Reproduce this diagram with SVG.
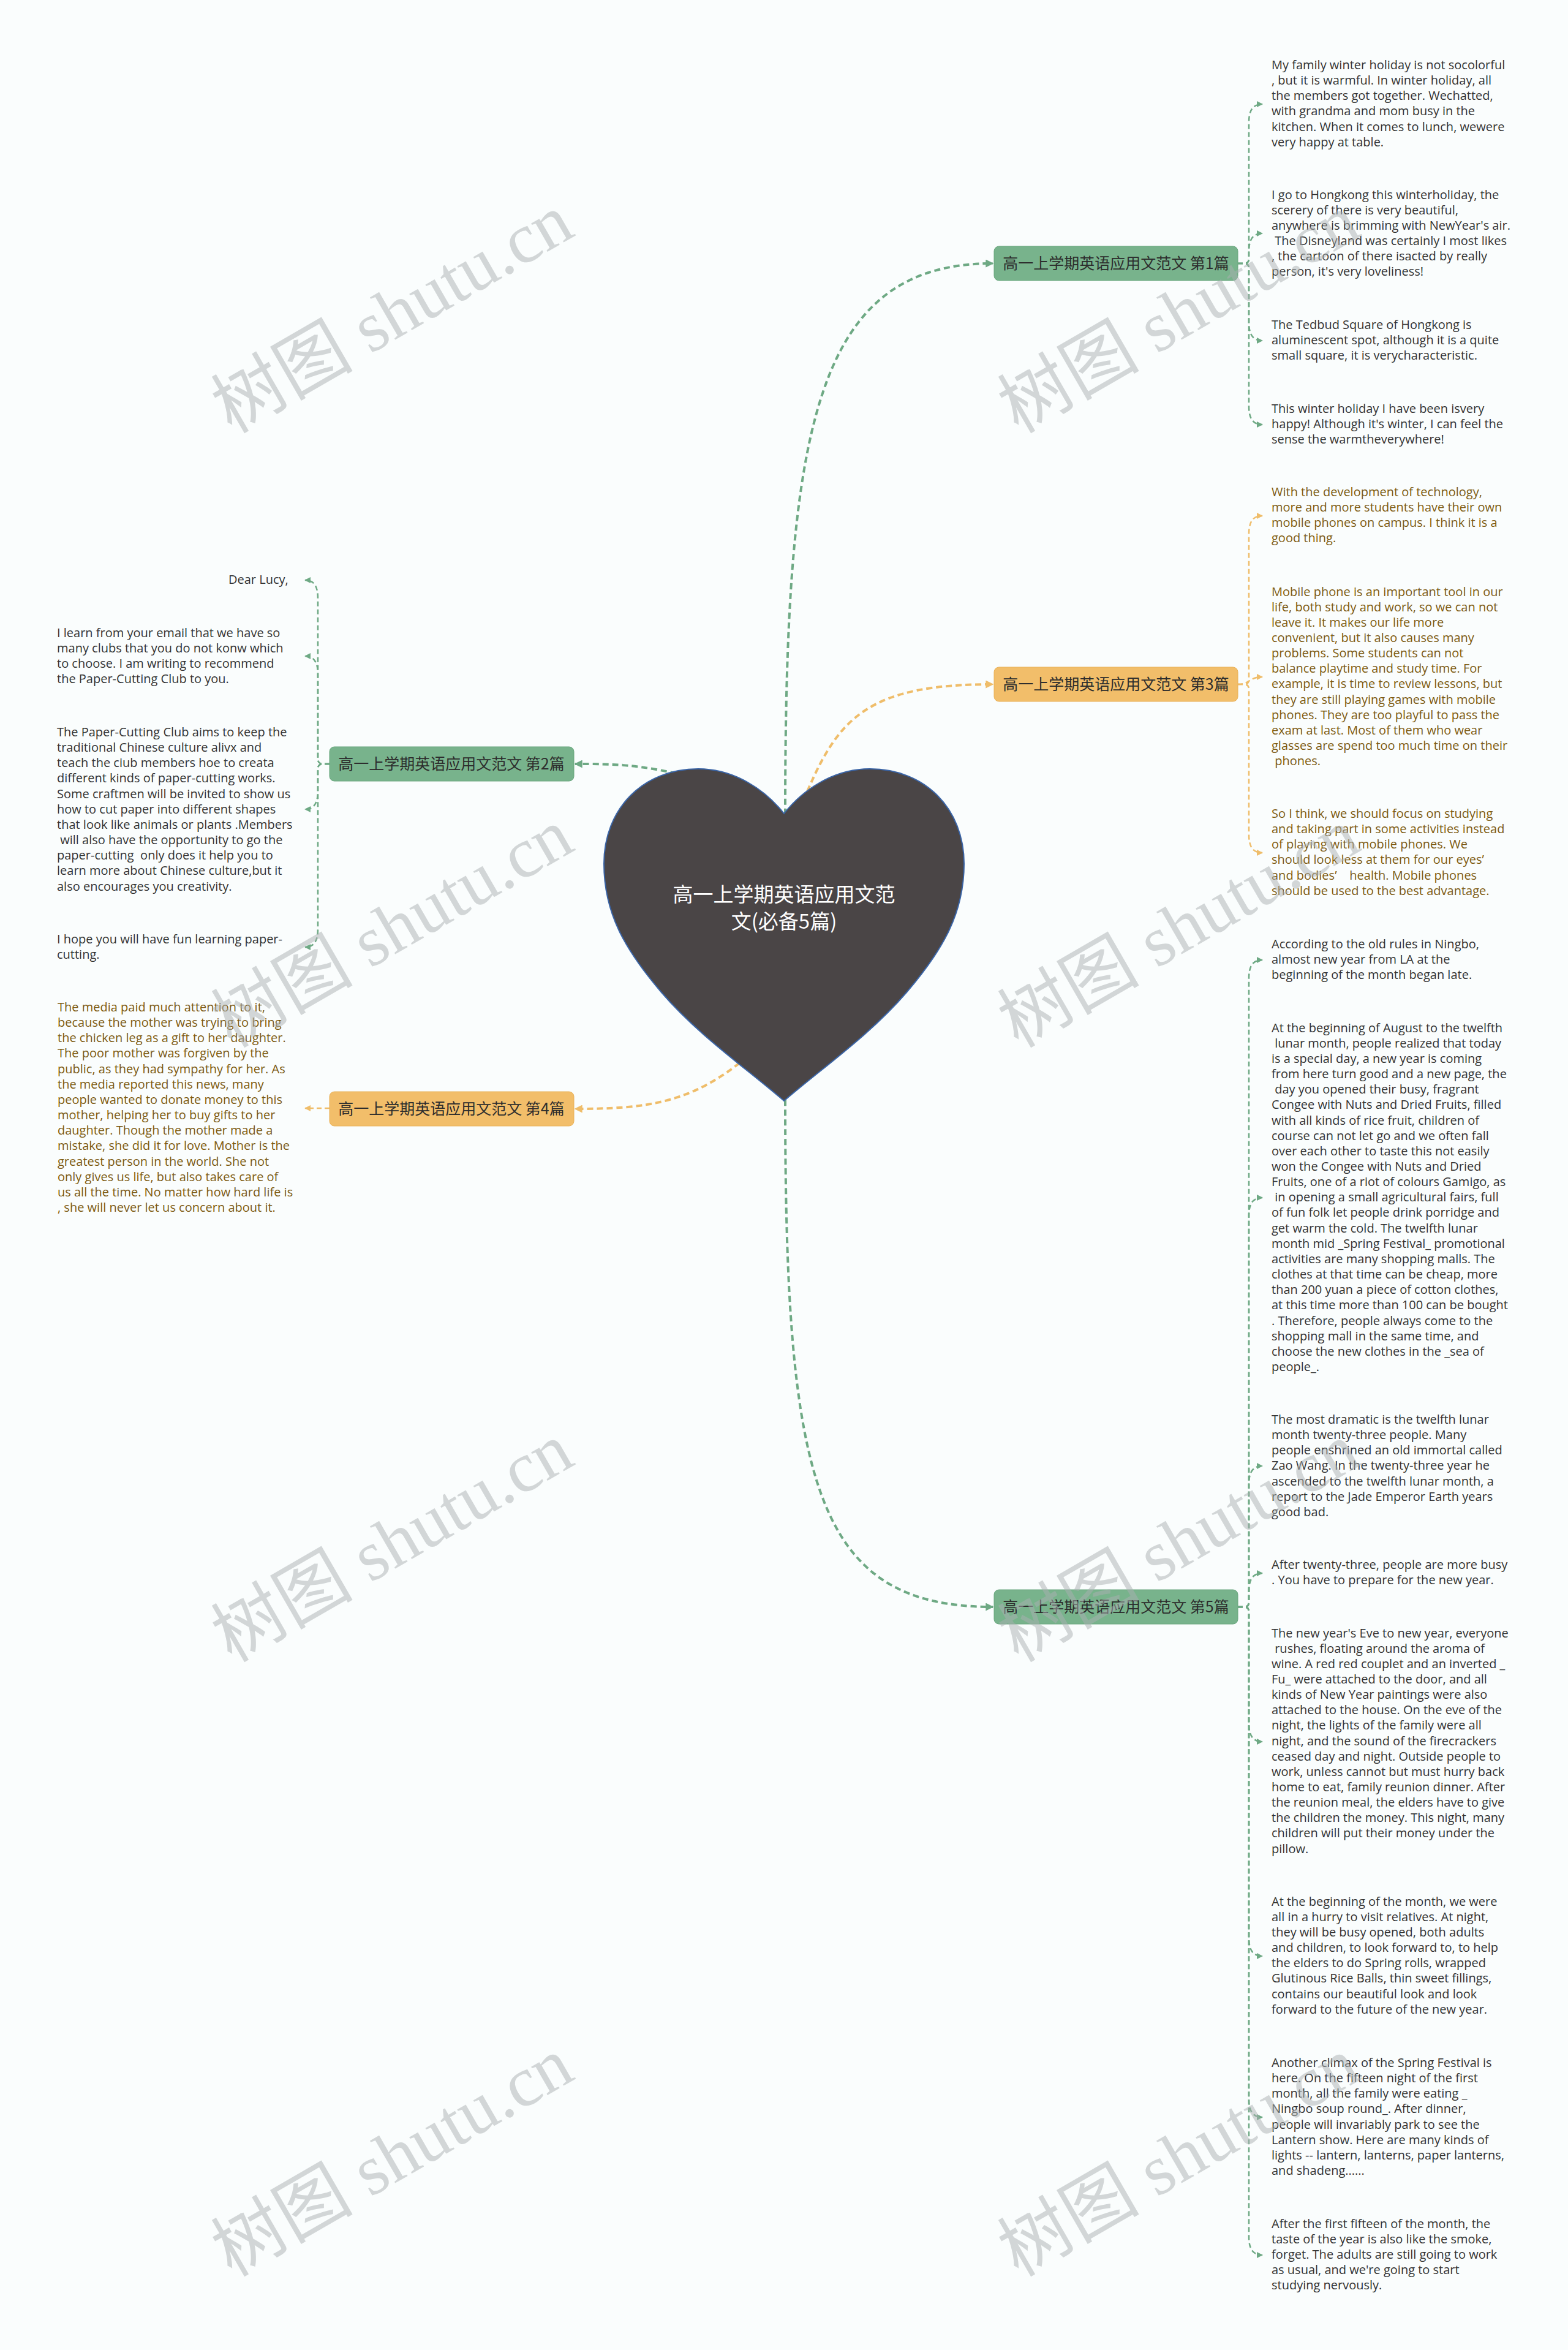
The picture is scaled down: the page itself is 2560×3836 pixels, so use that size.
<svg xmlns="http://www.w3.org/2000/svg" width="2560" height="3836" viewBox="0 0 2560 3836">
<style>
.bg{fill:#fafdfd}
.t{font-family:"Open Sans","Noto Sans",sans-serif;font-size:20px;white-space:pre}
.dk{fill:#333333}
.br{fill:#7d5a10}
.lbl{font-family:"Noto Sans CJK SC","Noto Sans",sans-serif;font-size:25px;fill:#2d2d2d;text-anchor:middle}
.ng{fill:#78b38c;stroke:#6aa77f;stroke-width:1}
.no{fill:#f2be6a;stroke:#e9b25a;stroke-width:1}
.cg{fill:none;stroke:#6ea984;stroke-width:2.5;stroke-dasharray:8 5}
.co{fill:none;stroke:#efbd6a;stroke-width:2.5;stroke-dasharray:8 5}
.mg{fill:none;stroke:#6ea984;stroke-width:4;stroke-dasharray:10 6}
.mo{fill:none;stroke:#efbd6a;stroke-width:4;stroke-dasharray:10 6}
.wm{font-family:"Liberation Serif","Noto Sans CJK SC",serif;font-size:116px;fill:#a9afb2;fill-opacity:0.5;text-anchor:middle}
</style>
<defs>
<marker id="ag" viewBox="0 0 10 10" refX="9" refY="5" markerWidth="10" markerHeight="10" markerUnits="userSpaceOnUse" orient="auto"><path d="M0,0 L10,5 L0,10 z" fill="#6ea984"/></marker>
<marker id="ao" viewBox="0 0 10 10" refX="9" refY="5" markerWidth="10" markerHeight="10" markerUnits="userSpaceOnUse" orient="auto"><path d="M0,0 L10,5 L0,10 z" fill="#efbd6a"/></marker>
<marker id="Ag" viewBox="0 0 10 10" refX="9" refY="5" markerWidth="13" markerHeight="13" markerUnits="userSpaceOnUse" orient="auto"><path d="M0,0 L10,5 L0,10 z" fill="#6ea984"/></marker>
<marker id="Ao" viewBox="0 0 10 10" refX="9" refY="5" markerWidth="13" markerHeight="13" markerUnits="userSpaceOnUse" orient="auto"><path d="M0,0 L10,5 L0,10 z" fill="#efbd6a"/></marker>
</defs>
<rect class="bg" x="0" y="0" width="2560" height="3836"/>

<g id="connectors">
<path class="mg" marker-end="url(#Ag)" d="M1282 1330 C1282 700 1330 430 1621 430"/>
<path class="mo" marker-end="url(#Ao)" d="M1318 1292 C1370 1170 1420 1117 1621 1117"/>
<path class="mg" marker-end="url(#Ag)" d="M1282 1795 C1282 2420 1330 2623 1621 2623"/>
<path class="mg" marker-end="url(#Ag)" d="M1120 1266 C1040 1248 1010 1247 939 1247"/>
<path class="mo" marker-end="url(#Ao)" d="M1220 1725 C1130 1800 1060 1810 939 1810"/>

<path class="cg" marker-end="url(#ag)" d="M2021 430 L2031 430 Q2039 430 2039 422 L2039 200 C2039 182 2044 170 2061 170"/>
<path class="cg" marker-end="url(#ag)" d="M2021 430 L2031 430 Q2039 430 2039 422 L2039 411 C2039 393 2044 381 2061 381"/>
<path class="cg" marker-end="url(#ag)" d="M2021 430 L2031 430 Q2039 430 2039 438 L2039 526 C2039 544 2044 556 2061 556"/>
<path class="cg" marker-end="url(#ag)" d="M2021 430 L2031 430 Q2039 430 2039 438 L2039 663 C2039 681 2044 693 2061 693"/>

<path class="co" marker-end="url(#ao)" d="M2021 1117 L2031 1117 Q2039 1117 2039 1109 L2039 872 C2039 854 2044 842 2061 842"/>
<path class="co" marker-end="url(#ao)" d="M2021 1117 C2040 1117 2040 1105 2061 1105"/>
<path class="co" marker-end="url(#ao)" d="M2021 1117 L2031 1117 Q2039 1117 2039 1125 L2039 1362 C2039 1380 2044 1392 2061 1392"/>

<path class="cg" marker-end="url(#ag)" d="M2021 2623 L2031 2623 Q2039 2623 2039 2615 L2039 1597 C2039 1579 2044 1567 2061 1567"/>
<path class="cg" marker-end="url(#ag)" d="M2021 2623 L2031 2623 Q2039 2623 2039 2615 L2039 1985 C2039 1967 2044 1955 2061 1955"/>
<path class="cg" marker-end="url(#ag)" d="M2021 2623 L2031 2623 Q2039 2623 2039 2615 L2039 2423 C2039 2405 2044 2393 2061 2393"/>
<path class="cg" marker-end="url(#ag)" d="M2021 2623 L2031 2623 Q2039 2623 2039 2615 L2039 2598 C2039 2580 2044 2568 2061 2568"/>
<path class="cg" marker-end="url(#ag)" d="M2021 2623 L2031 2623 Q2039 2623 2039 2631 L2039 2813 C2039 2831 2044 2843 2061 2843"/>
<path class="cg" marker-end="url(#ag)" d="M2021 2623 L2031 2623 Q2039 2623 2039 2631 L2039 3163 C2039 3181 2044 3193 2061 3193"/>
<path class="cg" marker-end="url(#ag)" d="M2021 2623 L2031 2623 Q2039 2623 2039 2631 L2039 3426 C2039 3444 2044 3456 2061 3456"/>
<path class="cg" marker-end="url(#ag)" d="M2021 2623 L2031 2623 Q2039 2623 2039 2631 L2039 3651 C2039 3669 2044 3681 2061 3681"/>

<path class="cg" marker-end="url(#ag)" d="M538 1247 L528 1247 Q519 1247 519 1239 L519 977 C519 959 514 947 498 947"/>
<path class="cg" marker-end="url(#ag)" d="M538 1247 L528 1247 Q519 1247 519 1239 L519 1101 C519 1083 514 1071 498 1071"/>
<path class="cg" marker-end="url(#ag)" d="M538 1247 L528 1247 Q519 1247 519 1255 L519 1291 C519 1309 514 1321 498 1321"/>
<path class="cg" marker-end="url(#ag)" d="M538 1247 L528 1247 Q519 1247 519 1255 L519 1516 C519 1534 514 1546 498 1546"/>

<path class="co" marker-end="url(#ao)" d="M538 1809 L498 1809"/>
</g>

<g id="root">
<path d="M1280 1328 C1250 1290 1200 1255 1140 1255 C1050 1255 986 1320 986 1410 C986 1490 1020 1550 1080 1620 C1140 1690 1220 1745 1280 1797 C1340 1745 1420 1690 1480 1620 C1540 1550 1574 1490 1574 1410 C1574 1320 1510 1255 1420 1255 C1360 1255 1310 1290 1280 1328 Z" fill="#4a4546" stroke="#3a64a6" stroke-width="2"/>
<text font-family="Noto Sans CJK SC, sans-serif" font-size="33" fill="#ffffff" text-anchor="middle"><tspan x="1280" y="1472">高一上学期英语应用文范</tspan><tspan x="1280" y="1516">文(必备5篇)</tspan></text>
</g>

<g id="n1"><rect class="ng" x="1623" y="402" width="398" height="56" rx="8"/><text class="lbl" x="1822" y="439">高一上学期英语应用文范文 第1篇</text></g>
<g id="n3"><rect class="no" x="1623" y="1089" width="398" height="56" rx="8"/><text class="lbl" x="1822" y="1126">高一上学期英语应用文范文 第3篇</text></g>
<g id="n5"><rect class="ng" x="1623" y="2595" width="398" height="56" rx="8"/><text class="lbl" x="1822" y="2632">高一上学期英语应用文范文 第5篇</text></g>
<g id="n2"><rect class="ng" x="538" y="1219" width="399" height="56" rx="8"/><text class="lbl" x="737" y="1256">高一上学期英语应用文范文 第2篇</text></g>
<g id="n4"><rect class="no" x="538" y="1782" width="399" height="56" rx="8"/><text class="lbl" x="737" y="1819">高一上学期英语应用文范文 第4篇</text></g>

<g id="n1-1"><text class="t dk" y="113"><tspan x="2076">My family winter holiday is not socolorful</tspan><tspan x="2076" dy="25.15">, but it is warmful. In winter holiday, all</tspan><tspan x="2076" dy="25.15">the members got together. Wechatted,</tspan><tspan x="2076" dy="25.15">with grandma and mom busy in the</tspan><tspan x="2076" dy="25.15">kitchen. When it comes to lunch, wewere</tspan><tspan x="2076" dy="25.15">very happy at table.</tspan></text></g>
<g id="n1-2"><text class="t dk" y="324.5"><tspan x="2076">I go to Hongkong this winterholiday, the</tspan><tspan x="2076" dy="25.15">scerery of there is very beautiful,</tspan><tspan x="2076" dy="25.15">anywhere is brimming with NewYear's air.</tspan><tspan x="2076" dy="25.15"> The Disneyland was certainly I most likes</tspan><tspan x="2076" dy="25.15">, the cartoon of there isacted by really</tspan><tspan x="2076" dy="25.15">person, it's very loveliness!</tspan></text></g>
<g id="n1-3"><text class="t dk" y="537"><tspan x="2076">The Tedbud Square of Hongkong is</tspan><tspan x="2076" dy="25.15">aluminescent spot, although it is a quite</tspan><tspan x="2076" dy="25.15">small square, it is verycharacteristic.</tspan></text></g>
<g id="n1-4"><text class="t dk" y="673.6"><tspan x="2076">This winter holiday I have been isvery</tspan><tspan x="2076" dy="25.15">happy! Although it's winter, I can feel the</tspan><tspan x="2076" dy="25.15">sense the warmtheverywhere!</tspan></text></g>

<g id="n3-1"><text class="t br" y="810"><tspan x="2076">With the development of technology,</tspan><tspan x="2076" dy="25.15">more and more students have their own</tspan><tspan x="2076" dy="25.15">mobile phones on campus. I think it is a</tspan><tspan x="2076" dy="25.15">good thing.</tspan></text></g>
<g id="n3-2"><text class="t br" y="972.5"><tspan x="2076">Mobile phone is an important tool in our</tspan><tspan x="2076" dy="25.15">life, both study and work, so we can not</tspan><tspan x="2076" dy="25.15">leave it. It makes our life more</tspan><tspan x="2076" dy="25.15">convenient, but it also causes many</tspan><tspan x="2076" dy="25.15">problems. Some students can not</tspan><tspan x="2076" dy="25.15">balance playtime and study time. For</tspan><tspan x="2076" dy="25.15">example, it is time to review lessons, but</tspan><tspan x="2076" dy="25.15">they are still playing games with mobile</tspan><tspan x="2076" dy="25.15">phones. They are too playful to pass the</tspan><tspan x="2076" dy="25.15">exam at last. Most of them who wear</tspan><tspan x="2076" dy="25.15">glasses are spend too much time on their</tspan><tspan x="2076" dy="25.15"> phones.</tspan></text></g>
<g id="n3-3"><text class="t br" y="1335"><tspan x="2076">So I think, we should focus on studying</tspan><tspan x="2076" dy="25.15">and taking part in some activities instead</tspan><tspan x="2076" dy="25.15">of playing with mobile phones. We</tspan><tspan x="2076" dy="25.15">should look less at them for our eyes’</tspan><tspan x="2076" dy="25.15">and bodies’    health. Mobile phones</tspan><tspan x="2076" dy="25.15">should be used to the best advantage.</tspan></text></g>

<g id="n5-1"><text class="t dk" y="1547.5"><tspan x="2076">According to the old rules in Ningbo,</tspan><tspan x="2076" dy="25.15">almost new year from LA at the</tspan><tspan x="2076" dy="25.15">beginning of the month began late.</tspan></text></g>
<g id="n5-2"><text class="t dk" y="1684.7"><tspan x="2076">At the beginning of August to the twelfth</tspan><tspan x="2076" dy="25.15"> lunar month, people realized that today</tspan><tspan x="2076" dy="25.15">is a special day, a new year is coming</tspan><tspan x="2076" dy="25.15">from here turn good and a new page, the</tspan><tspan x="2076" dy="25.15"> day you opened their busy, fragrant</tspan><tspan x="2076" dy="25.15">Congee with Nuts and Dried Fruits, filled</tspan><tspan x="2076" dy="25.15">with all kinds of rice fruit, children of</tspan><tspan x="2076" dy="25.15">course can not let go and we often fall</tspan><tspan x="2076" dy="25.15">over each other to taste this not easily</tspan><tspan x="2076" dy="25.15">won the Congee with Nuts and Dried</tspan><tspan x="2076" dy="25.15">Fruits, one of a riot of colours Gamigo, as</tspan><tspan x="2076" dy="25.15"> in opening a small agricultural fairs, full</tspan><tspan x="2076" dy="25.15">of fun folk let people drink porridge and</tspan><tspan x="2076" dy="25.15">get warm the cold. The twelfth lunar</tspan><tspan x="2076" dy="25.15">month mid _Spring Festival_ promotional</tspan><tspan x="2076" dy="25.15">activities are many shopping malls. The</tspan><tspan x="2076" dy="25.15">clothes at that time can be cheap, more</tspan><tspan x="2076" dy="25.15">than 200 yuan a piece of cotton clothes,</tspan><tspan x="2076" dy="25.15">at this time more than 100 can be bought</tspan><tspan x="2076" dy="25.15">. Therefore, people always come to the</tspan><tspan x="2076" dy="25.15">shopping mall in the same time, and</tspan><tspan x="2076" dy="25.15">choose the new clothes in the _sea of</tspan><tspan x="2076" dy="25.15">people_.</tspan></text></g>
<g id="n5-3"><text class="t dk" y="2324"><tspan x="2076">The most dramatic is the twelfth lunar</tspan><tspan x="2076" dy="25.15">month twenty-three people. Many</tspan><tspan x="2076" dy="25.15">people enshrined an old immortal called</tspan><tspan x="2076" dy="25.15">Zao Wang. In the twenty-three year he</tspan><tspan x="2076" dy="25.15">ascended to the twelfth lunar month, a</tspan><tspan x="2076" dy="25.15">report to the Jade Emperor Earth years</tspan><tspan x="2076" dy="25.15">good bad.</tspan></text></g>
<g id="n5-4"><text class="t dk" y="2561"><tspan x="2076">After twenty-three, people are more busy</tspan><tspan x="2076" dy="25.15">. You have to prepare for the new year.</tspan></text></g>
<g id="n5-5"><text class="t dk" y="2672.5"><tspan x="2076">The new year's Eve to new year, everyone</tspan><tspan x="2076" dy="25.15"> rushes, floating around the aroma of</tspan><tspan x="2076" dy="25.15">wine. A red red couplet and an inverted _</tspan><tspan x="2076" dy="25.15">Fu_ were attached to the door, and all</tspan><tspan x="2076" dy="25.15">kinds of New Year paintings were also</tspan><tspan x="2076" dy="25.15">attached to the house. On the eve of the</tspan><tspan x="2076" dy="25.15">night, the lights of the family were all</tspan><tspan x="2076" dy="25.15">night, and the sound of the firecrackers</tspan><tspan x="2076" dy="25.15">ceased day and night. Outside people to</tspan><tspan x="2076" dy="25.15">work, unless cannot but must hurry back</tspan><tspan x="2076" dy="25.15">home to eat, family reunion dinner. After</tspan><tspan x="2076" dy="25.15">the reunion meal, the elders have to give</tspan><tspan x="2076" dy="25.15">the children the money. This night, many</tspan><tspan x="2076" dy="25.15">children will put their money under the</tspan><tspan x="2076" dy="25.15">pillow.</tspan></text></g>
<g id="n5-6"><text class="t dk" y="3110.6"><tspan x="2076">At the beginning of the month, we were</tspan><tspan x="2076" dy="25.15">all in a hurry to visit relatives. At night,</tspan><tspan x="2076" dy="25.15">they will be busy opened, both adults</tspan><tspan x="2076" dy="25.15">and children, to look forward to, to help</tspan><tspan x="2076" dy="25.15">the elders to do Spring rolls, wrapped</tspan><tspan x="2076" dy="25.15">Glutinous Rice Balls, thin sweet fillings,</tspan><tspan x="2076" dy="25.15">contains our beautiful look and look</tspan><tspan x="2076" dy="25.15">forward to the future of the new year.</tspan></text></g>
<g id="n5-7"><text class="t dk" y="3374"><tspan x="2076">Another climax of the Spring Festival is</tspan><tspan x="2076" dy="25.15">here. On the fifteen night of the first</tspan><tspan x="2076" dy="25.15">month, all the family were eating _</tspan><tspan x="2076" dy="25.15">Ningbo soup round_. After dinner,</tspan><tspan x="2076" dy="25.15">people will invariably park to see the</tspan><tspan x="2076" dy="25.15">Lantern show. Here are many kinds of</tspan><tspan x="2076" dy="25.15">lights -- lantern, lanterns, paper lanterns,</tspan><tspan x="2076" dy="25.15">and shadeng......</tspan></text></g>
<g id="n5-8"><text class="t dk" y="3636.5"><tspan x="2076">After the first fifteen of the month, the</tspan><tspan x="2076" dy="25.15">taste of the year is also like the smoke,</tspan><tspan x="2076" dy="25.15">forget. The adults are still going to work</tspan><tspan x="2076" dy="25.15">as usual, and we're going to start</tspan><tspan x="2076" dy="25.15">studying nervously.</tspan></text></g>

<g id="n2-1"><text class="t dk" x="373" y="953">Dear Lucy,</text></g>
<g id="n2-2"><text class="t dk" y="1040"><tspan x="93">I learn from your email that we have so</tspan><tspan x="93" dy="25.15">many clubs that you do not konw which</tspan><tspan x="93" dy="25.15">to choose. I am writing to recommend</tspan><tspan x="93" dy="25.15">the Paper-Cutting Club to you.</tspan></text></g>
<g id="n2-3"><text class="t dk" y="1202"><tspan x="93">The Paper-Cutting Club aims to keep the</tspan><tspan x="93" dy="25.15">traditional Chinese culture alivx and</tspan><tspan x="93" dy="25.15">teach the ciub members hoe to creata</tspan><tspan x="93" dy="25.15">different kinds of paper-cutting works.</tspan><tspan x="93" dy="25.15">Some craftmen will be invited to show us</tspan><tspan x="93" dy="25.15">how to cut paper into different shapes</tspan><tspan x="93" dy="25.15">that look like animals or plants .Members</tspan><tspan x="93" dy="25.15"> will also have the opportunity to go the</tspan><tspan x="93" dy="25.15">paper-cutting  only does it help you to</tspan><tspan x="93" dy="25.15">learn more about Chinese culture,but it</tspan><tspan x="93" dy="25.15">also encourages you creativity.</tspan></text></g>
<g id="n2-4"><text class="t dk" y="1540"><tspan x="93">I hope you will have fun learning paper-</tspan><tspan x="93" dy="25.15">cutting.</tspan></text></g>

<g id="n4-1"><text class="t br" y="1651"><tspan x="94">The media paid much attention to it,</tspan><tspan x="94" dy="25.15">because the mother was trying to bring</tspan><tspan x="94" dy="25.15">the chicken leg as a gift to her daughter.</tspan><tspan x="94" dy="25.15">The poor mother was forgiven by the</tspan><tspan x="94" dy="25.15">public, as they had sympathy for her. As</tspan><tspan x="94" dy="25.15">the media reported this news, many</tspan><tspan x="94" dy="25.15">people wanted to donate money to this</tspan><tspan x="94" dy="25.15">mother, helping her to buy gifts to her</tspan><tspan x="94" dy="25.15">daughter. Though the mother made a</tspan><tspan x="94" dy="25.15">mistake, she did it for love. Mother is the</tspan><tspan x="94" dy="25.15">greatest person in the world. She not</tspan><tspan x="94" dy="25.15">only gives us life, but also takes care of</tspan><tspan x="94" dy="25.15">us all the time. No matter how hard life is</tspan><tspan x="94" dy="25.15">, she will never let us concern about it.</tspan></text></g>

<g id="watermarks">
<text class="wm" transform="translate(660 546) rotate(-30)">树图 shutu.cn</text>
<text class="wm" transform="translate(1944 546) rotate(-30)">树图 shutu.cn</text>
<text class="wm" transform="translate(660 1549) rotate(-30)">树图 shutu.cn</text>
<text class="wm" transform="translate(1944 1549) rotate(-30)">树图 shutu.cn</text>
<text class="wm" transform="translate(660 2552) rotate(-30)">树图 shutu.cn</text>
<text class="wm" transform="translate(1944 2552) rotate(-30)">树图 shutu.cn</text>
<text class="wm" transform="translate(660 3555) rotate(-30)">树图 shutu.cn</text>
<text class="wm" transform="translate(1944 3555) rotate(-30)">树图 shutu.cn</text>
</g>
</svg>
